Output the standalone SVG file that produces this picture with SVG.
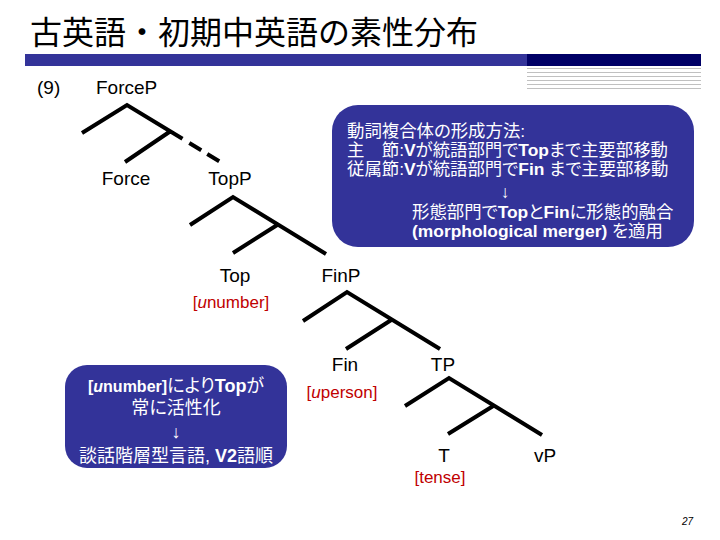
<svg xmlns="http://www.w3.org/2000/svg" width="720" height="540" viewBox="0 0 720 540">
<style>
.title{font-family:"Noto Sans CJK JP",sans-serif;font-size:32px;fill:#000}
.lbl{font-family:"Liberation Sans",Arial,sans-serif;font-size:19px;fill:#000;text-anchor:middle}
.num{font-family:"Liberation Sans",Arial,sans-serif;font-size:19px;fill:#000}
.feat{font-family:"Liberation Sans",Arial,sans-serif;font-size:17px;fill:#C00000;text-anchor:middle}
.box{fill:#333399}
.bt{font-family:"Liberation Sans","Noto Sans CJK JP",sans-serif;font-size:18px;fill:#fff;font-feature-settings:"palt"}
.bt1{font-size:17.4px}
.b{font-weight:bold}
.br{fill:none;stroke:#000;stroke-width:4}
.dash{stroke-dasharray:14 7 14}
.rule{stroke:#C0C0C0;stroke-width:1}
</style>
<rect width="720" height="540" fill="#fff"/>
<g id="header">
<text class="title" x="30" y="44">古英語・初期中英語の素性分布</text>
<rect x="25" y="54" width="502" height="12" fill="#333399"/>
<rect x="527" y="54" width="174" height="12" fill="#000066"/>
<line class="rule" x1="527" y1="68.5" x2="701" y2="68.5"/>
<line class="rule" x1="527" y1="72.5" x2="701" y2="72.5"/>
<line class="rule" x1="527" y1="76.5" x2="701" y2="76.5"/>
<line class="rule" x1="527" y1="80.5" x2="701" y2="80.5"/>
<line class="rule" x1="527" y1="84.5" x2="701" y2="84.5"/>
<line class="rule" x1="527" y1="88.5" x2="701" y2="88.5"/>
<text class="num" x="37" y="94">(9)</text>
</g>
<g id="connectors">
<path class="br" d="M82 133 L127 105 L182.5 138.8 M170 131.5 L125 162"/>
<path class="br dash" d="M189.3 143 L219.5 161.4"/>
<path class="br" d="M190 225 L233 197 L326 254 M278 224.5 L233 253"/>
<path class="br" d="M303 321 L347 292 L440 349 M392 319.5 L346 349"/>
<path class="br" d="M405 406 L449 378 L542 435 M494 405.5 L448 434"/>
</g>
<g id="node-forcep"><text class="num" x="96" y="94">ForceP</text></g>
<g id="node-force"><text class="lbl" x="126" y="185">Force</text></g>
<g id="node-topp"><text class="lbl" x="230" y="185">TopP</text></g>
<g id="node-top"><text class="lbl" x="235" y="282">Top</text>
<text class="feat" x="231" y="308">[<tspan font-style="italic">u</tspan>number]</text></g>
<g id="node-finp"><text class="lbl" x="341" y="282">FinP</text></g>
<g id="node-fin"><text class="lbl" x="345" y="371">Fin</text>
<text class="feat" x="342" y="398">[<tspan font-style="italic">u</tspan>person]</text></g>
<g id="node-tp"><text class="lbl" x="443" y="371">TP</text></g>
<g id="node-t"><text class="lbl" x="444" y="462">T</text>
<text class="feat" x="440" y="483">[tense]</text></g>
<g id="node-vp"><text class="lbl" x="545" y="462">vP</text></g>
<g id="note-merger">
<rect class="box" x="332" y="105" width="362" height="142" rx="26" ry="26"/>
<text class="bt bt1" x="347" y="137">動詞複合体の形成方法:</text>
<text class="bt bt1" x="347" y="156">主　節:<tspan class="b">V</tspan>が統語部門で<tspan class="b">Top</tspan>まで主要部移動</text>
<text class="bt bt1" x="347" y="175">従属節:<tspan class="b">V</tspan>が統語部門で<tspan class="b">Fin </tspan>まで主要部移動</text>
<text class="bt bt1" x="505" y="198" text-anchor="middle">↓</text>
<text class="bt bt1" x="412" y="218">形態部門で<tspan class="b">Top</tspan>と<tspan class="b">Fin</tspan>に形態的融合</text>
<text class="bt bt1" x="412" y="237"><tspan class="b">(morphological merger) </tspan>を適用</text>
</g>
<g id="note-v2">
<rect class="box" x="65" y="365" width="222" height="103" rx="22" ry="22"/>
<text class="bt" x="176" y="392" text-anchor="middle"><tspan class="b" font-size="16">[<tspan font-style="italic">u</tspan>number]</tspan>により<tspan class="b">Top</tspan>が</text>
<text class="bt" x="176" y="414" text-anchor="middle">常に活性化</text>
<text class="bt" x="176" y="438" text-anchor="middle">↓</text>
<text class="bt" x="176" y="462" text-anchor="middle">談話階層型言語, <tspan class="b">V2</tspan>語順</text>
</g>
<g id="page"><text x="682" y="525" font-family="Liberation Sans,Arial,sans-serif" font-size="10" font-style="italic">27</text></g>
</svg>
